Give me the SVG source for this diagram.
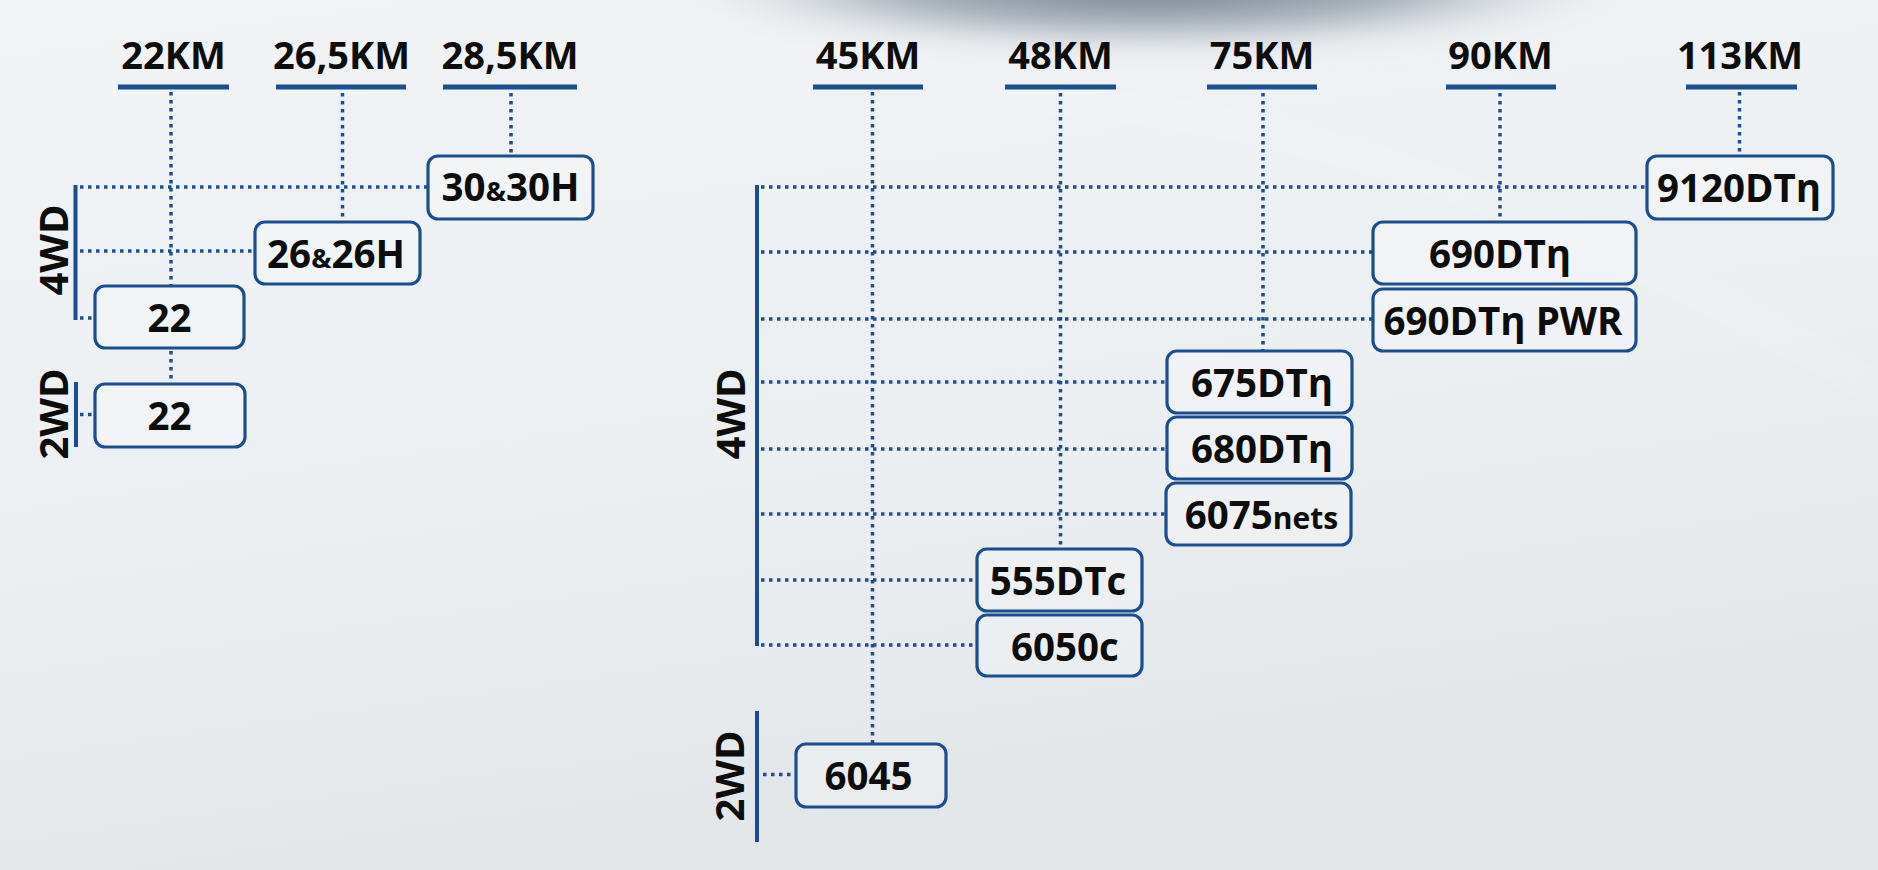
<svg xmlns="http://www.w3.org/2000/svg" width="1878" height="870" viewBox="0 0 1878 870">
<defs>
<style>
.hdr{font-family:"Open Sans","Liberation Sans",sans-serif;font-weight:700;font-size:38px;fill:#0d0d0d;text-anchor:middle}
.lbl{font-family:"Open Sans","Liberation Sans",sans-serif;font-weight:700;font-size:38.5px;fill:#0d0d0d;text-anchor:middle}
.side{font-family:"Open Sans","Liberation Sans",sans-serif;font-weight:700;font-size:40px;fill:#0d0d0d;text-anchor:middle}
.sm{font-size:27px}
.nets{font-size:30px}
.box{fill:#ffffff;fill-opacity:0.22;stroke:#1b4e8e;stroke-width:3.2}
.ul{stroke:#1b4e8e;stroke-width:5;fill:none}
.bar{stroke:#1b4e8e;stroke-width:4;fill:none}
.dot{stroke:#1f4f8e;stroke-width:3.5;stroke-dasharray:3.5 4.5;fill:none}
</style>
<linearGradient id="bg" x1="0" y1="0" x2="0.3" y2="1">
<stop offset="0" stop-color="#f1f3f5"/>
<stop offset="0.6" stop-color="#eceff2"/>
<stop offset="1" stop-color="#e3e6e9"/>
</linearGradient>
<radialGradient id="shade" cx="0.5" cy="0.5" r="0.5">
<stop offset="0" stop-color="#6f7d8b" stop-opacity="1"/>
<stop offset="0.55" stop-color="#95a1ad" stop-opacity="0.8"/>
<stop offset="1" stop-color="#d5dadf" stop-opacity="0"/>
</radialGradient>
<filter id="blur" x="-20%" y="-50%" width="140%" height="200%"><feGaussianBlur stdDeviation="12"/></filter>
</defs>
<rect width="1878" height="870" fill="url(#bg)"/>
<ellipse cx="1150" cy="-15" rx="480" ry="70" fill="url(#shade)" filter="url(#blur)"/>
<path d="M1000 95 C1200 110 1450 140 1878 390" stroke="#ffffff" stroke-opacity="0.45" stroke-width="5" fill="none" filter="url(#blur)"/>

<g id="connectors">
<line class="ul" x1="118" y1="87" x2="229" y2="87"/>
<line class="ul" x1="276" y1="87" x2="406" y2="87"/>
<line class="ul" x1="443" y1="87" x2="577" y2="87"/>
<line class="ul" x1="813" y1="87" x2="923" y2="87"/>
<line class="ul" x1="1005" y1="87" x2="1116" y2="87"/>
<line class="ul" x1="1207" y1="87" x2="1317" y2="87"/>
<line class="ul" x1="1446" y1="87" x2="1556" y2="87"/>
<line class="ul" x1="1686" y1="87" x2="1797" y2="87"/>

<line class="bar" x1="75.5" y1="185" x2="75.5" y2="320"/>
<line class="bar" x1="76" y1="382" x2="76" y2="447"/>
<line class="bar" x1="757" y1="185" x2="757" y2="646"/>
<line class="bar" x1="757" y1="711" x2="757" y2="842"/>

<line class="dot" x1="171" y1="92" x2="171" y2="286"/>
<line class="dot" x1="171" y1="351" x2="171" y2="384"/>
<line class="dot" x1="342.5" y1="93" x2="342.5" y2="222"/>
<line class="dot" x1="511" y1="93" x2="511" y2="156"/>
<line class="dot" x1="80" y1="187" x2="428" y2="187"/>
<line class="dot" x1="80" y1="251" x2="255" y2="251"/>
<line class="dot" x1="80" y1="318" x2="95" y2="318"/>
<line class="dot" x1="80" y1="414.5" x2="95" y2="414.5"/>

<line class="dot" x1="872.5" y1="92" x2="872.5" y2="744"/>
<line class="dot" x1="1060.5" y1="93" x2="1060.5" y2="549"/>
<line class="dot" x1="1263" y1="93" x2="1263" y2="351"/>
<line class="dot" x1="1500" y1="93" x2="1500" y2="222"/>
<line class="dot" x1="1739.5" y1="92" x2="1739.5" y2="156"/>
<line class="dot" x1="761" y1="187" x2="1647" y2="187"/>
<line class="dot" x1="761" y1="252" x2="1373" y2="252"/>
<line class="dot" x1="761" y1="319" x2="1373" y2="319"/>
<line class="dot" x1="761" y1="382" x2="1167" y2="382"/>
<line class="dot" x1="761" y1="449" x2="1167" y2="449"/>
<line class="dot" x1="761" y1="514" x2="1166" y2="514"/>
<line class="dot" x1="761" y1="580" x2="977" y2="580"/>
<line class="dot" x1="761" y1="645" x2="977" y2="645"/>
<line class="dot" x1="763" y1="774.5" x2="796" y2="774.5"/>
</g>

<g id="headers">
<text class="hdr" x="173.5" y="69">22KM</text>
<text class="hdr" x="341.5" y="69">26,5KM</text>
<text class="hdr" x="510" y="69">28,5KM</text>
<text class="hdr" x="868" y="69">45KM</text>
<text class="hdr" x="1060.5" y="69">48KM</text>
<text class="hdr" x="1262" y="69">75KM</text>
<text class="hdr" x="1500.5" y="69">90KM</text>
<text class="hdr" x="1740" y="69">113KM</text>
</g>

<g id="side-labels">
<text class="side" transform="translate(68,250) rotate(-90)">4WD</text>
<text class="side" transform="translate(68,414) rotate(-90)">2WD</text>
<text class="side" transform="translate(745,414) rotate(-90)">4WD</text>
<text class="side" transform="translate(744,776) rotate(-90)">2WD</text>
</g>

<g id="n-30-30H"><rect class="box" x="428" y="156" width="165" height="63" rx="10"/><text class="lbl" x="510.5" y="201">30<tspan class="sm">&amp;</tspan>30H</text></g>
<g id="n-26-26H"><rect class="box" x="255" y="222" width="165" height="62" rx="10"/><text class="lbl" x="336" y="267.5">26<tspan class="sm">&amp;</tspan>26H</text></g>
<g id="n-22-4wd"><rect class="box" x="95" y="286" width="149" height="62" rx="10"/><text class="lbl" x="169.5" y="331.5">22</text></g>
<g id="n-22-2wd"><rect class="box" x="95" y="384" width="150" height="63" rx="10"/><text class="lbl" x="169.5" y="429.5">22</text></g>

<g id="n-9120DTn"><rect class="box" x="1647" y="156" width="186" height="63" rx="10"/><text class="lbl" x="1739" y="201.5">9120DTη</text></g>
<g id="n-690DTn"><rect class="box" x="1373" y="222" width="263" height="62" rx="10"/><text class="lbl" x="1500" y="267.5">690DTη</text></g>
<g id="n-690DTn-PWR"><rect class="box" x="1373" y="289" width="263" height="62" rx="10"/><text class="lbl" x="1503" y="334.5">690DTη PWR</text></g>
<g id="n-675DTn"><rect class="box" x="1167" y="351" width="185" height="62" rx="10"/><text class="lbl" x="1262" y="396.5">675DTη</text></g>
<g id="n-680DTn"><rect class="box" x="1167" y="417" width="185" height="62" rx="10"/><text class="lbl" x="1262" y="462.5">680DTη</text></g>
<g id="n-6075nets"><rect class="box" x="1166" y="483" width="185" height="62" rx="10"/><text class="lbl" x="1261.5" y="528.5">6075<tspan class="nets">nets</tspan></text></g>
<g id="n-555DTc"><rect class="box" x="977" y="549" width="165" height="62" rx="10"/><text class="lbl" x="1058" y="594.5">555DTc</text></g>
<g id="n-6050c"><rect class="box" x="977" y="615" width="165" height="61" rx="10"/><text class="lbl" x="1065" y="660.5">6050c</text></g>
<g id="n-6045"><rect class="box" x="796" y="744" width="150" height="63" rx="10"/><text class="lbl" x="868.5" y="789.5">6045</text></g>
</svg>
